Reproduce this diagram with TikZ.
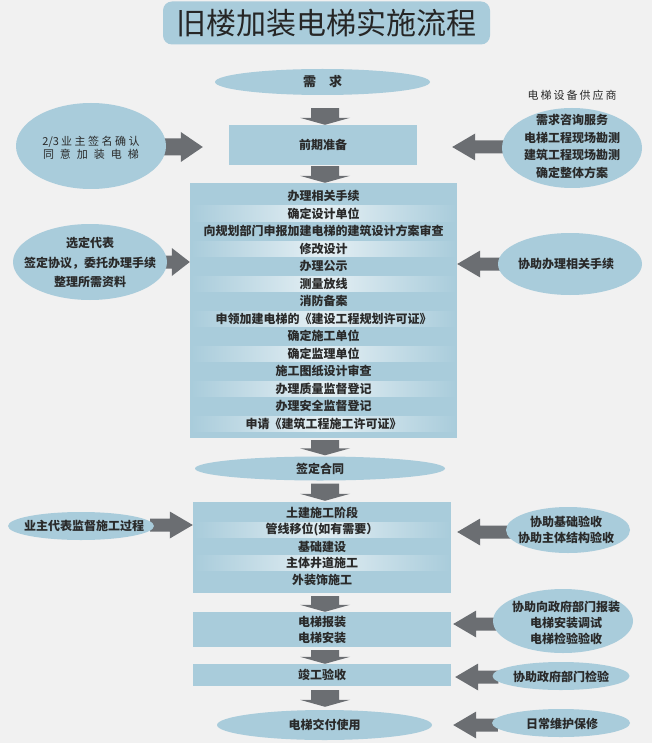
\documentclass[tikz,border=0pt]{standalone}
\usepackage{fontspec}
\setmainfont{Noto Sans CJK SC}
\usetikzlibrary{calc,shapes.geometric}
\definecolor{bgc}{HTML}{F1F1F1}
\definecolor{lb}{HTML}{A9CCDB}
\definecolor{arc}{HTML}{6B6E72}
\definecolor{txc}{HTML}{2A2A2A}
\pgfdeclarelayer{back}
\pgfdeclarelayer{arr}
\pgfsetlayers{back,arr,main}
\newcommand\barrow[5]{%
  \coordinate (tmpc) at ($(#2)!#5!(#1)$);
  \fill[arc] ($(#1)!#3!90:(#2)$) -- ($(tmpc)!#3!-90:(#1)$) -- ($(tmpc)!#4!-90:(#1)$) -- (#2) -- ($(tmpc)!#4!90:(#1)$) -- ($(tmpc)!#3!90:(#1)$) -- ($(#1)!#3!-90:(#2)$) -- cycle;}
\newcommand\darrow[2]{\barrow{#1}{#2}{14pt}{25pt}{7pt}}
\newcommand\harrow[2]{\barrow{#1}{#2}{6.5pt}{13.5pt}{23pt}}
\begin{document}
\begin{tikzpicture}[x=1pt,y=-1pt,
  ell/.style={ellipse, fill=lb, inner sep=0pt},
  box/.style={rectangle, fill=lb, inner sep=0pt},
  txt/.style={text=txc, inner sep=0pt, align=center, font=\bfseries\fontsize{12}{16}\selectfont},
  thin/.style={text=txc, inner sep=0pt, align=center, font=\fontsize{11}{13}\selectfont},
  ]
\useasboundingbox (0,0) rectangle (652,743);
\begin{pgfonlayer}{back}
\fill[bgc] (0,0) rectangle (652,743);
\end{pgfonlayer}

% title
\node[box, rounded corners=9pt, minimum width=327pt, minimum height=43pt,
      text=black!85, font=\fontsize{30}{32}\selectfont] (title) at (326.5,23) {旧楼加装电梯实施流程};

% main flow
\node[ell, minimum width=215pt, minimum height=26pt] (xq) at (322.5,82) {};
\node[txt, font=\bfseries\fontsize{13}{15}\selectfont] (xqt) at (xq) {需\hspace{13pt}求};
\node[box, txt, minimum width=188pt, minimum height=40pt] (qq) at (323,145) {前期准备};

\node[box, minimum width=267pt, minimum height=255pt] (bb) at (323.5,310.5) {};
\foreach \t [count=\i] in {办理相关手续, 确定设计单位, 向规划部门申报加建电梯的建筑设计方案审查, 修改设计, 办理公示, 测量放线, 消防备案, 申领加建电梯的《建设工程规划许可证》, 确定施工单位, 确定监理单位, 施工图纸设计审查, 办理质量监督登记, 办理安全监督登记, 申请《建筑工程施工许可证》}{
  \pgfmathsetmacro\yy{196+(\i-1)*17.5}
  \ifodd\i\else
    \shade[left color=lb, right color=lb, middle color=lb!30!white] (191,\yy-7.5) rectangle (456,\yy+7.5);
  \fi
  \node[txt] (r\i) at (323.5,\yy) {\t};
}

\node[ell, minimum width=250pt, minimum height=24pt] (ht) at (320,468.5) {};
\node[txt] (htt) at (ht) {签定合同};

\node[box, minimum width=258pt, minimum height=91pt] (cb) at (322,547.5) {};
\foreach \t [count=\i] in {土建施工阶段, 管线移位(如有需要）, 基础建设, 主体井道施工, 外装饰施工}{
  \pgfmathsetmacro\yy{513+(\i-1)*16.75}
  \ifodd\i\else
    \shade[left color=lb, right color=lb, middle color=lb!35!white] (194,\yy-7.5) rectangle (450,\yy+7.5);
  \fi
  \node[txt] (c\i) at (322,\yy) {\t};
}

\node[box, txt, minimum width=258pt, minimum height=35pt] (bz) at (322,629.5) {电梯报装\\电梯安装};
\node[box, txt, minimum width=258pt, minimum height=22pt] (jg) at (322,675) {竣工验收};
\node[ell, minimum width=215pt, minimum height=30pt] (jf) at (324.5,725) {};
\node[txt] (jft) at (jf) {电梯交付使用};

% left ellipses
\node[ell, minimum width=150pt, minimum height=86pt] (L1) at (91,146) {};
\node[thin] (L1t) at (91,147.5) {2/3\hspace{2pt}业\hspace{2.5pt}主\hspace{2.5pt}签\hspace{2.5pt}名\hspace{2.5pt}确\hspace{2.5pt}认\\同\hspace{6pt}意\hspace{6pt}加\hspace{6pt}装\hspace{6pt}电\hspace{6pt}梯};
\node[ell, minimum width=154pt, minimum height=76pt] (L2) at (90,262) {};
\node[txt, font=\bfseries\fontsize{12}{19.5}\selectfont] (L2t) at (90,262.5) {选定代表\\签定协议，委托办理手续\\整理所需资料};
\node[ell, minimum width=146pt, minimum height=28pt] (L3) at (81,526) {};
\node[txt] (L3t) at (84,525.5) {业主代表监督施工过程};

% right ellipses
\node[thin] (R0) at (572,95) {电\hspace{2pt}梯\hspace{2pt}设\hspace{2pt}备\hspace{2pt}供\hspace{2pt}应\hspace{2pt}商};
\node[ell, minimum width=140pt, minimum height=80pt] (R1) at (572,148) {};
\node[txt, font=\bfseries\fontsize{12}{17.7}\selectfont] (R1t) at (572,146.5) {需求咨询服务\\电梯工程现场勘测\\建筑工程现场勘测\\确定整体方案};
\node[ell, minimum width=144pt, minimum height=62pt] (R2) at (570,264) {};
\node[txt] (R2t) at (566,263.5) {协助办理相关手续};
\node[ell, minimum width=124pt, minimum height=46pt] (R3) at (568,530) {};
\node[txt] (R3t) at (566,530) {协助基础验收\\协助主体结构验收};
\node[ell, minimum width=140pt, minimum height=64pt] (R4) at (563,621) {};
\node[txt] (R4t) at (566,623) {协助向政府部门报装\\电梯安装调试\\电梯检验验收};
\node[ell, minimum width=137pt, minimum height=28pt] (R5) at (561,676) {};
\node[txt] (R5t) at (561,676.5) {协助政府部门检验};
\node[ell, minimum width=138pt, minimum height=28pt] (R6) at (561,723) {};
\node[txt] (R6t) at (562,723.5) {日常维护保修};

% arrow end points
\coordinate (d1s) at ($(xq.south)+(2.5,13)$);  \coordinate (d1e) at (d1s |- qq.north);
\coordinate (d2s) at ($(qq.south)+(2,1)$);     \coordinate (d2e) at (d2s |- bb.north);
\coordinate (d3s) at ($(bb.south)+(1.5,2)$);   \coordinate (d3e) at ($(d3s |- ht.north)+(0,-1)$);
\coordinate (d4s) at ($(ht.south)+(5,3)$);     \coordinate (d4e) at ($(d4s |- cb.north)+(0,-1)$);
\coordinate (d5s) at ($(cb.south)+(3,3)$);     \coordinate (d5e) at (d5s |- bz.north);
\coordinate (d6s) at ($(bz.south)+(3,3)$);     \coordinate (d6e) at (d6s |- jg.north);
\coordinate (d7s) at ($(jg.south)+(3,4)$);     \coordinate (d7e) at ($(d7s |- jf.north)+(0,-3)$);

\coordinate (h1s) at ($(L1.east)+(-6,1)$);     \coordinate (h1e) at ($(qq.west |- h1s)+(-26,0)$);
\coordinate (h2s) at ($(L2.east)+(-6,0)$);     \coordinate (h2e) at (bb.west |- h2s);
\coordinate (h3s) at ($(L3.east)+(-4,-1)$);    \coordinate (h3e) at (cb.west |- h3s);
\coordinate (r1s) at ($(R1.west)+(6,-1)$);     \coordinate (r1e) at ($(qq.east |- r1s)+(35,0)$);
\coordinate (r2s) at ($(R2.west)+(6,0)$);      \coordinate (r2e) at (bb.east |- r2s);
\coordinate (r3s) at ($(R3.west)+(6,2)$);      \coordinate (r3e) at ($(cb.east |- r3s)+(6,0)$);
\coordinate (r4s) at ($(R4.west)+(6,3)$);      \coordinate (r4e) at ($(bz.east |- r4s)+(2,0)$);
\coordinate (r5s) at ($(R5.west)+(6,1)$);      \coordinate (r5e) at ($(jg.east |- r5s)+(4,0)$);
\coordinate (r6s) at ($(R6.west)+(6,2)$);      \coordinate (r6e) at ($(jg.east |- r6s)+(2,0)$);

\begin{pgfonlayer}{arr}
\darrow{d1s}{d1e}
\darrow{d2s}{d2e}
\darrow{d3s}{d3e}
\darrow{d4s}{d4e}
\darrow{d5s}{d5e}
\darrow{d6s}{d6e}
\darrow{d7s}{d7e}
\barrow{h1s}{h1e}{8.5pt}{15pt}{22pt}
\barrow{h2s}{h2e}{6.5pt}{14pt}{18pt}
\harrow{h3s}{h3e}
\harrow{r1s}{r1e}
\harrow{r2s}{r2e}
\harrow{r3s}{r3e}
\harrow{r4s}{r4e}
\harrow{r5s}{r5e}
\harrow{r6s}{r6e}
\end{pgfonlayer}
\end{tikzpicture}
\end{document}
